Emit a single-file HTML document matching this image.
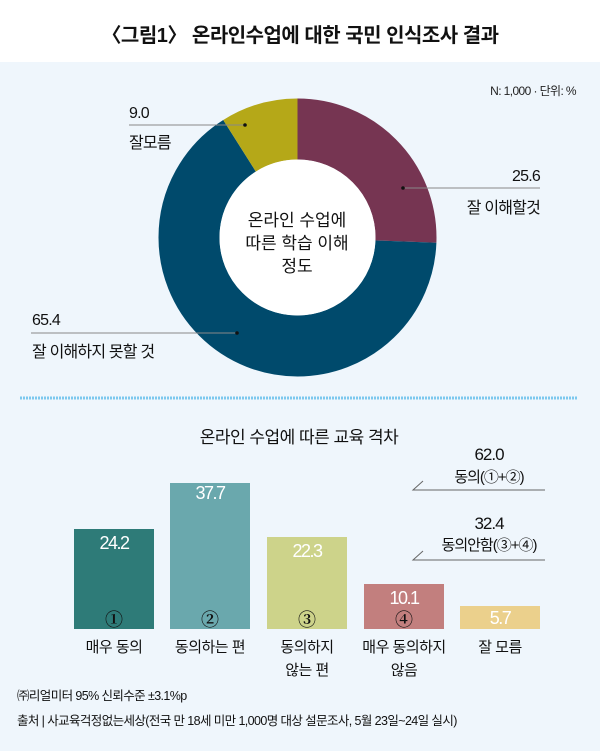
<!DOCTYPE html>
<html><head><meta charset="utf-8"><style>
body{margin:0;background:#fff}
svg{display:block;font-family:"Liberation Sans","Noto Sans CJK KR",sans-serif}
</style></head><body>
<svg width="600" height="751" viewBox="0 0 600 751" xmlns="http://www.w3.org/2000/svg">
<rect x="0" y="0" width="600" height="751" fill="#fff"/>
<rect x="0" y="62" width="600" height="689" fill="#eff6fc"/>
<text x="300" y="42" text-anchor="middle" font-size="20" font-weight="bold" fill="#111" letter-spacing="-0.5">〈그림1〉 온라인수업에 대한 국민 인식조사 결과</text>
<text x="576" y="95" text-anchor="end" font-size="12" fill="#222" letter-spacing="-0.6">N: 1,000 · 단위: %</text>
<g transform="rotate(-90 297.5 237.5)" fill="none" stroke-width="61">
<circle cx="297.5" cy="237.5" r="108.5" stroke="#763552" stroke-dasharray="174.5 681.7"/>
<circle cx="297.5" cy="237.5" r="108.5" stroke="#004a6c" stroke-dasharray="0 174.5 445.8 681.7"/>
<circle cx="297.5" cy="237.5" r="108.5" stroke="#b5a818" stroke-dasharray="0 620.3 61.4 681.7"/>
</g>
<circle cx="297.5" cy="237.5" r="78" fill="#fff"/>
<g font-size="17" fill="#111" text-anchor="middle">
<text x="297" y="226">온라인 수업에</text>
<text x="297" y="249">따른 학습 이해</text>
<text x="297" y="272">정도</text>
</g>
<g stroke="#888" stroke-width="1">
<line x1="129" y1="125" x2="245" y2="125"/>
<line x1="403" y1="188" x2="540" y2="188"/>
<line x1="31" y1="333" x2="237" y2="333"/>
</g>
<g fill="#111"><circle cx="245" cy="125" r="1.8"/><circle cx="403" cy="188" r="1.8"/><circle cx="237" cy="333" r="1.8"/></g>
<g font-size="16" fill="#111" letter-spacing="-0.8">
<text x="129" y="118">9.0</text>
<text x="129" y="148">잘모름</text>
<text x="540" y="181" text-anchor="end">25.6</text>
<text x="540" y="213" text-anchor="end">잘 이해할것</text>
<text x="32" y="325">65.4</text>
<text x="32" y="357">잘 이해하지 못할 것</text>
</g>
<line x1="20" y1="398" x2="578" y2="398" stroke="#7cc8ee" stroke-width="3" stroke-dasharray="2 1"/>
<text x="299" y="443" text-anchor="middle" font-size="17" fill="#111" letter-spacing="-0.5">온라인 수업에 따른 교육 격차</text>
<g>
<rect x="74" y="529" width="80" height="100" fill="#2e7b78"/>
<rect x="170" y="483" width="80" height="146" fill="#6aa8ad"/>
<rect x="267" y="537" width="80" height="92" fill="#cdd38a"/>
<rect x="364" y="584" width="80" height="45" fill="#c27f7e"/>
<rect x="460" y="606" width="80" height="23" fill="#ebd08c"/>
</g>
<g font-size="18" fill="#fff" text-anchor="middle" letter-spacing="-1.5">
<text x="114" y="549">24.2</text>
<text x="210" y="499">37.7</text>
<text x="307" y="557">22.3</text>
<text x="404" y="604">10.1</text>
<text x="500" y="624">5.7</text>
</g>
<g font-size="18" fill="#111" text-anchor="middle" font-family="'Liberation Serif','Noto Serif CJK SC',serif" font-weight="bold">
<text x="114" y="626">①</text>
<text x="210" y="626">②</text>
<text x="307" y="626">③</text>
<text x="404" y="626">④</text>
</g>
<g font-size="15" fill="#111" text-anchor="middle" letter-spacing="-0.5">
<text x="114" y="652">매우 동의</text>
<text x="210" y="652">동의하는 편</text>
<text x="307" y="652">동의하지</text>
<text x="307" y="675">않는 편</text>
<text x="404" y="652">매우 동의하지</text>
<text x="404" y="675">않음</text>
<text x="500" y="652">잘 모름</text>
</g>
<g stroke="#666" stroke-width="1" fill="none">
<polyline points="423,481 413,490 545,490"/>
<polyline points="423,551 413,560 545,560"/>
</g>
<g font-size="17" fill="#111" text-anchor="middle" letter-spacing="-1">
<text x="489" y="460">62.0</text>
<text x="489" y="482" font-size="15">동의(①+②)</text>
<text x="489" y="529">32.4</text>
<text x="489" y="550" font-size="15">동의안함(③+④)</text>
</g>
<g font-size="12.5" fill="#111" letter-spacing="-0.6">
<text x="17" y="700">㈜리얼미터 95% 신뢰수준  ±3.1%p</text>
<text x="17" y="725">출처 | 사교육걱정없는세상(전국 만 18세 미만 1,000명 대상 설문조사, 5월 23일~24일 실시)</text>
</g>
</svg>
</body></html>
